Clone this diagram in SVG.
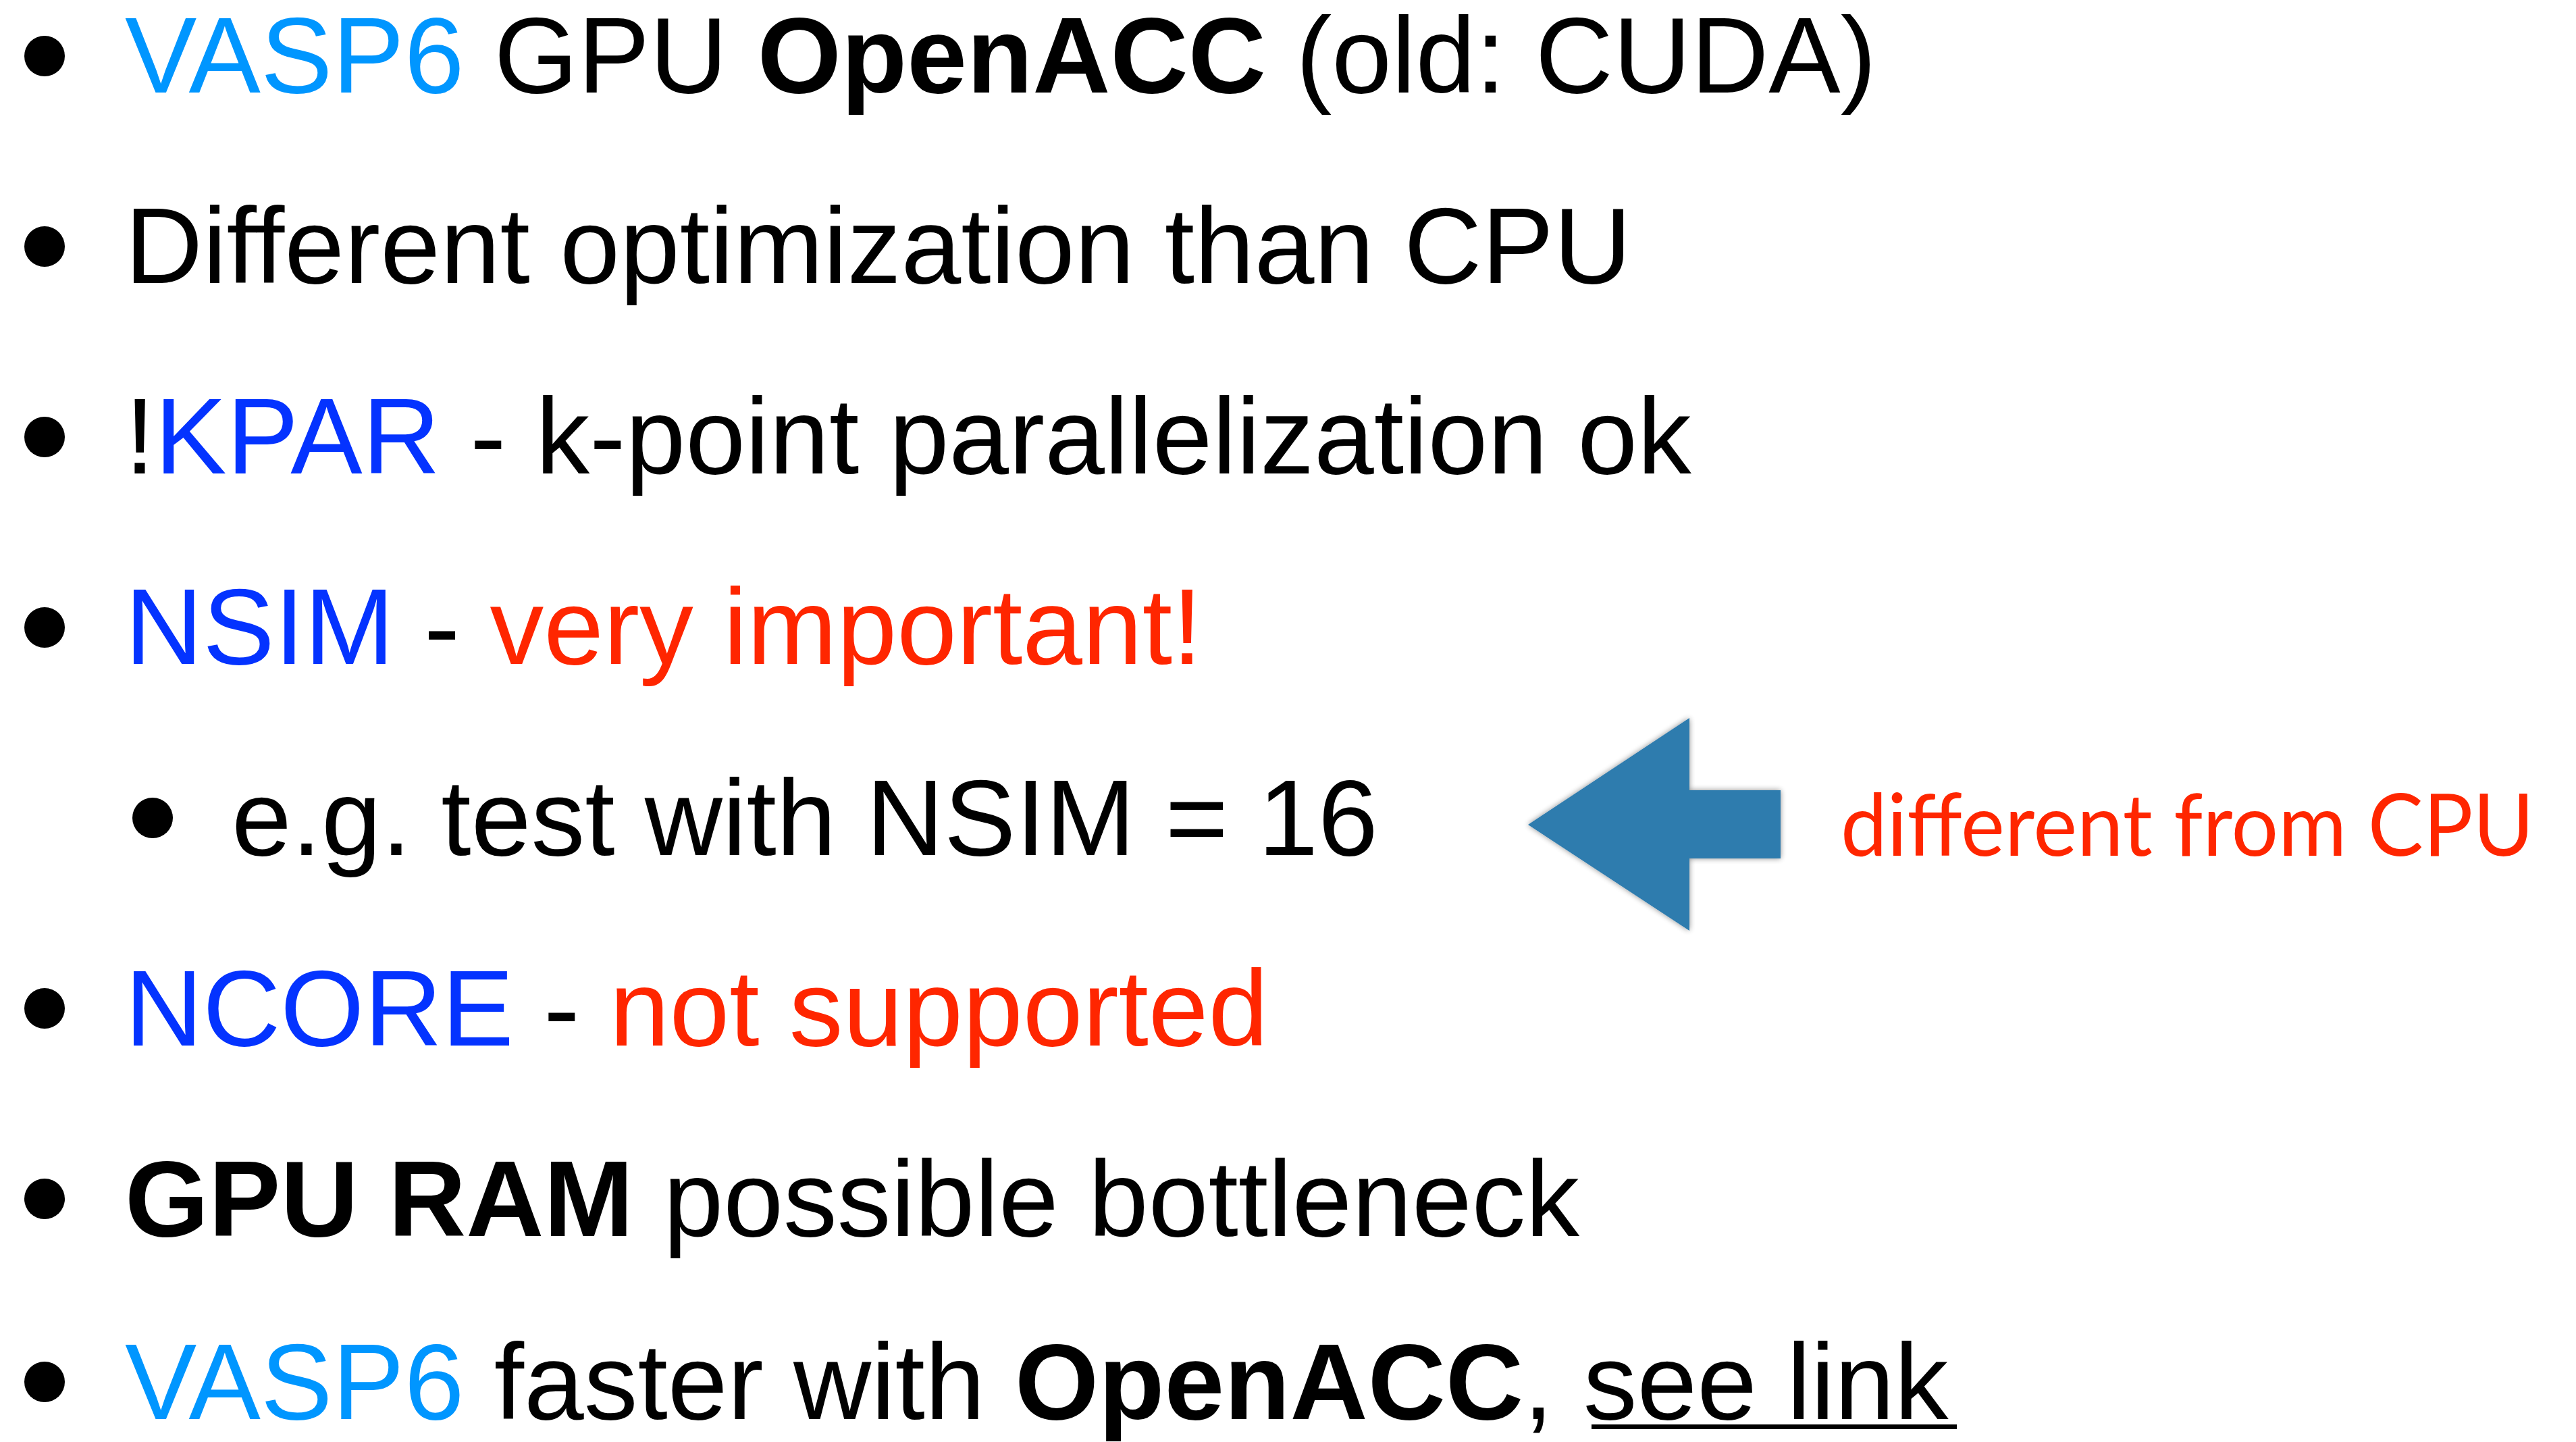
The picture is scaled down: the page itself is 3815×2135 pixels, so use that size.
<svg xmlns="http://www.w3.org/2000/svg" width="3815" height="2135" viewBox="0 0 3815 2135">
  <defs>
    <style>
      .t { font-family: "Liberation Sans", Arial, Helvetica, sans-serif; font-size: 159.5px; fill: #000000; }
      .b { font-weight: bold; }
      .aqua { fill: #0096FF; }
      .blue { fill: #0433FF; }
      .red { fill: #FF2600; }
      .dot { fill: #000000; }
      .note { font-family: Lato, "Open Sans", "Noto Sans", sans-serif; font-size: 128px; fill: #FF2600; }
      .arrow { fill: #2E7BAE; }
    </style>
    <filter id="shadow" x="-10%" y="-10%" width="120%" height="120%">
      <feGaussianBlur in="SourceAlpha" stdDeviation="4"/>
      <feComponentTransfer><feFuncA type="linear" slope="0.45"/></feComponentTransfer>
      <feMerge><feMergeNode/><feMergeNode in="SourceGraphic"/></feMerge>
    </filter>
  </defs>
  <rect x="0" y="0" width="3815" height="2135" fill="#FFFFFF"/>

  <g id="item1">
    <circle class="dot" cx="66" cy="83" r="30"/>
    <text class="t" x="185" y="137"><tspan class="aqua">VASP6</tspan> GPU <tspan class="b">OpenACC</tspan> (old: CUDA)</text>
  </g>
  <g id="item2">
    <circle class="dot" cx="66" cy="365" r="30"/>
    <text class="t" x="185" y="419">Different optimization than CPU</text>
  </g>
  <g id="item3">
    <circle class="dot" cx="66" cy="647" r="30"/>
    <text class="t" x="185" y="701">!<tspan class="blue">KPAR</tspan> - k-point parallelization ok</text>
  </g>
  <g id="item4">
    <circle class="dot" cx="66" cy="929" r="30"/>
    <text class="t" x="185" y="983"><tspan class="blue">NSIM</tspan> - <tspan class="red">very important!</tspan></text>
  </g>
  <g id="item5">
    <circle class="dot" cx="226" cy="1211" r="30"/>
    <text class="t" x="343" y="1266">e.g. test with NSIM = 16</text>
  </g>
  <g id="item6">
    <circle class="dot" cx="66" cy="1493" r="30"/>
    <text class="t" x="185" y="1548"><tspan class="blue">NCORE</tspan> - <tspan class="red">not supported</tspan></text>
  </g>
  <g id="item7">
    <circle class="dot" cx="66" cy="1775" r="30"/>
    <text class="t" x="185" y="1830"><tspan class="b">GPU RAM</tspan> possible bottleneck</text>
  </g>
  <g id="item8">
    <circle class="dot" cx="66" cy="2046" r="30"/>
    <text class="t" x="185" y="2101"><tspan class="aqua">VASP6</tspan> faster with <tspan class="b">OpenACC</tspan>, see link</text>
    <rect x="2357" y="2109" width="541" height="7" fill="#000000"/>
  </g>

  <g id="connectors">
    <g id="arrow">
      <polygon class="arrow" filter="url(#shadow)" points="2263,1221 2502,1063 2502,1170 2637,1170 2637,1271 2502,1271 2502,1378"/>
    </g>
  </g>

  <g id="note">
    <text class="note" x="2726" y="1267" textLength="1027" lengthAdjust="spacingAndGlyphs">different from CPU</text>
  </g>
</svg>
